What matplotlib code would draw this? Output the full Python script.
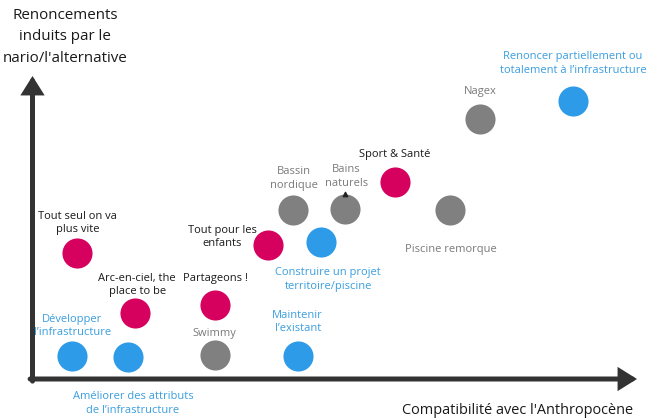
import matplotlib
matplotlib.use("Agg")
import matplotlib.pyplot as plt

plt.rcParams['font.family'] = ['Open Sans', 'DejaVu Sans']

# strategies (blue)
blue_labels = ["Développer\nl’infrastructure", "Améliorer des attributs\nde l’infrastructure",
               "Maintenir\nl’existant", "Construire un projet\nterritoire/piscine",
               "Renoncer partiellement ou\ntotalement à l’infrastructure"]
blue_x = [0.66, 1.59, 4.42, 4.81, 9.01]
blue_y = [0.77, 0.73, 0.77, 4.57, 9.27]

# scenarios (magenta)
pink_labels = ["Tout seul on va\nplus vite", "Arc-en-ciel, the\nplace to be", "Partageons !",
               "Tout pour les\nenfants", "Sport & Santé"]
pink_x = [0.74, 1.71, 3.04, 3.93, 6.04]
pink_y = [4.20, 2.20, 2.47, 4.47, 6.57]

# alternatives (gray)
gray_labels = ["Swimmy", "Bassin\nnordique", "Bains\nnaturels", "Piscine remorque", "Nagex"]
gray_x = [3.04, 4.34, 5.21, 6.96, 7.46]
gray_y = [0.80, 5.63, 5.67, 5.63, 8.67]

# label offsets in pixels (dx right, dy up)
blue_off = [(0, 30), (5, -46), (0, 34), (7, -38), (0, 37)]
pink_off = [(1, 30), (2, 28), (1, 26), (-46, 8), (0, 27)]
gray_off = [(0, 22), (1, 32), (1, 32), (1, -39), (0, 27)]

BLUE = "#2e9be8"
PINK = "#d6005f"
GRAY = "#808080"
AXIS = "#333333"

fig = plt.figure(figsize=(6.46, 4.19), dpi=100)
ax = fig.add_axes([32.5 / 646, (419 - 379) / 419, 600 / 646, 300 / 419])
ax.set_xlim(0, 10)
ax.set_ylim(0, 10)
ax.axis("off")

ax.scatter(blue_x, blue_y, s=470, color=BLUE, linewidths=0, zorder=3, clip_on=False)
ax.scatter(pink_x, pink_y, s=470, color=PINK, linewidths=0, zorder=3, clip_on=False)
ax.scatter(gray_x, gray_y, s=470, color=GRAY, linewidths=0, zorder=3, clip_on=False)

for labels, xs, ys, offs, col in [(blue_labels, blue_x, blue_y, blue_off, "#3a9ee0"),
                                  (pink_labels, pink_x, pink_y, pink_off, "#1a1a1a"),
                                  (gray_labels, gray_x, gray_y, gray_off, "#7a7a7a")]:
    for lab, x, y, off in zip(labels, xs, ys, offs):
        ax.annotate(lab, (x, y), xytext=off, textcoords="offset pixels",
                    ha="center", va="center", fontsize=8, color=col,
                    linespacing=1.35, annotation_clip=False)

# small mark under "naturels"
ax.scatter([5.21], [6.17], marker="^", s=10, color="#222222", zorder=4)

# axes arrows
arrow = dict(arrowstyle="-|>,head_length=0.4,head_width=0.25",
             mutation_scale=22, lw=3.6, color=AXIS,
             shrinkA=0, shrinkB=0, joinstyle="miter")
ax.annotate("", xy=(0, 1.01), xytext=(0, -0.007), xycoords="axes fraction", arrowprops=arrow)
ax.annotate("", xy=(1.0075, 0), xytext=(-0.004, 0), xycoords="axes fraction", arrowprops=arrow)

fig.text(517.5 / 646, 1 - 410 / 419, "Compatibilité avec l'Anthropocène",
         ha="center", va="center", fontsize=10.45, color="#1a1a1a")
fig.text(65 / 646, 1 - 37 / 419, "Renoncements\ninduits par le\nnario/l'alternative",
         ha="center", va="center", fontsize=10.9, color="#1a1a1a", linespacing=1.55)

fig.savefig("out.png", dpi=100)
